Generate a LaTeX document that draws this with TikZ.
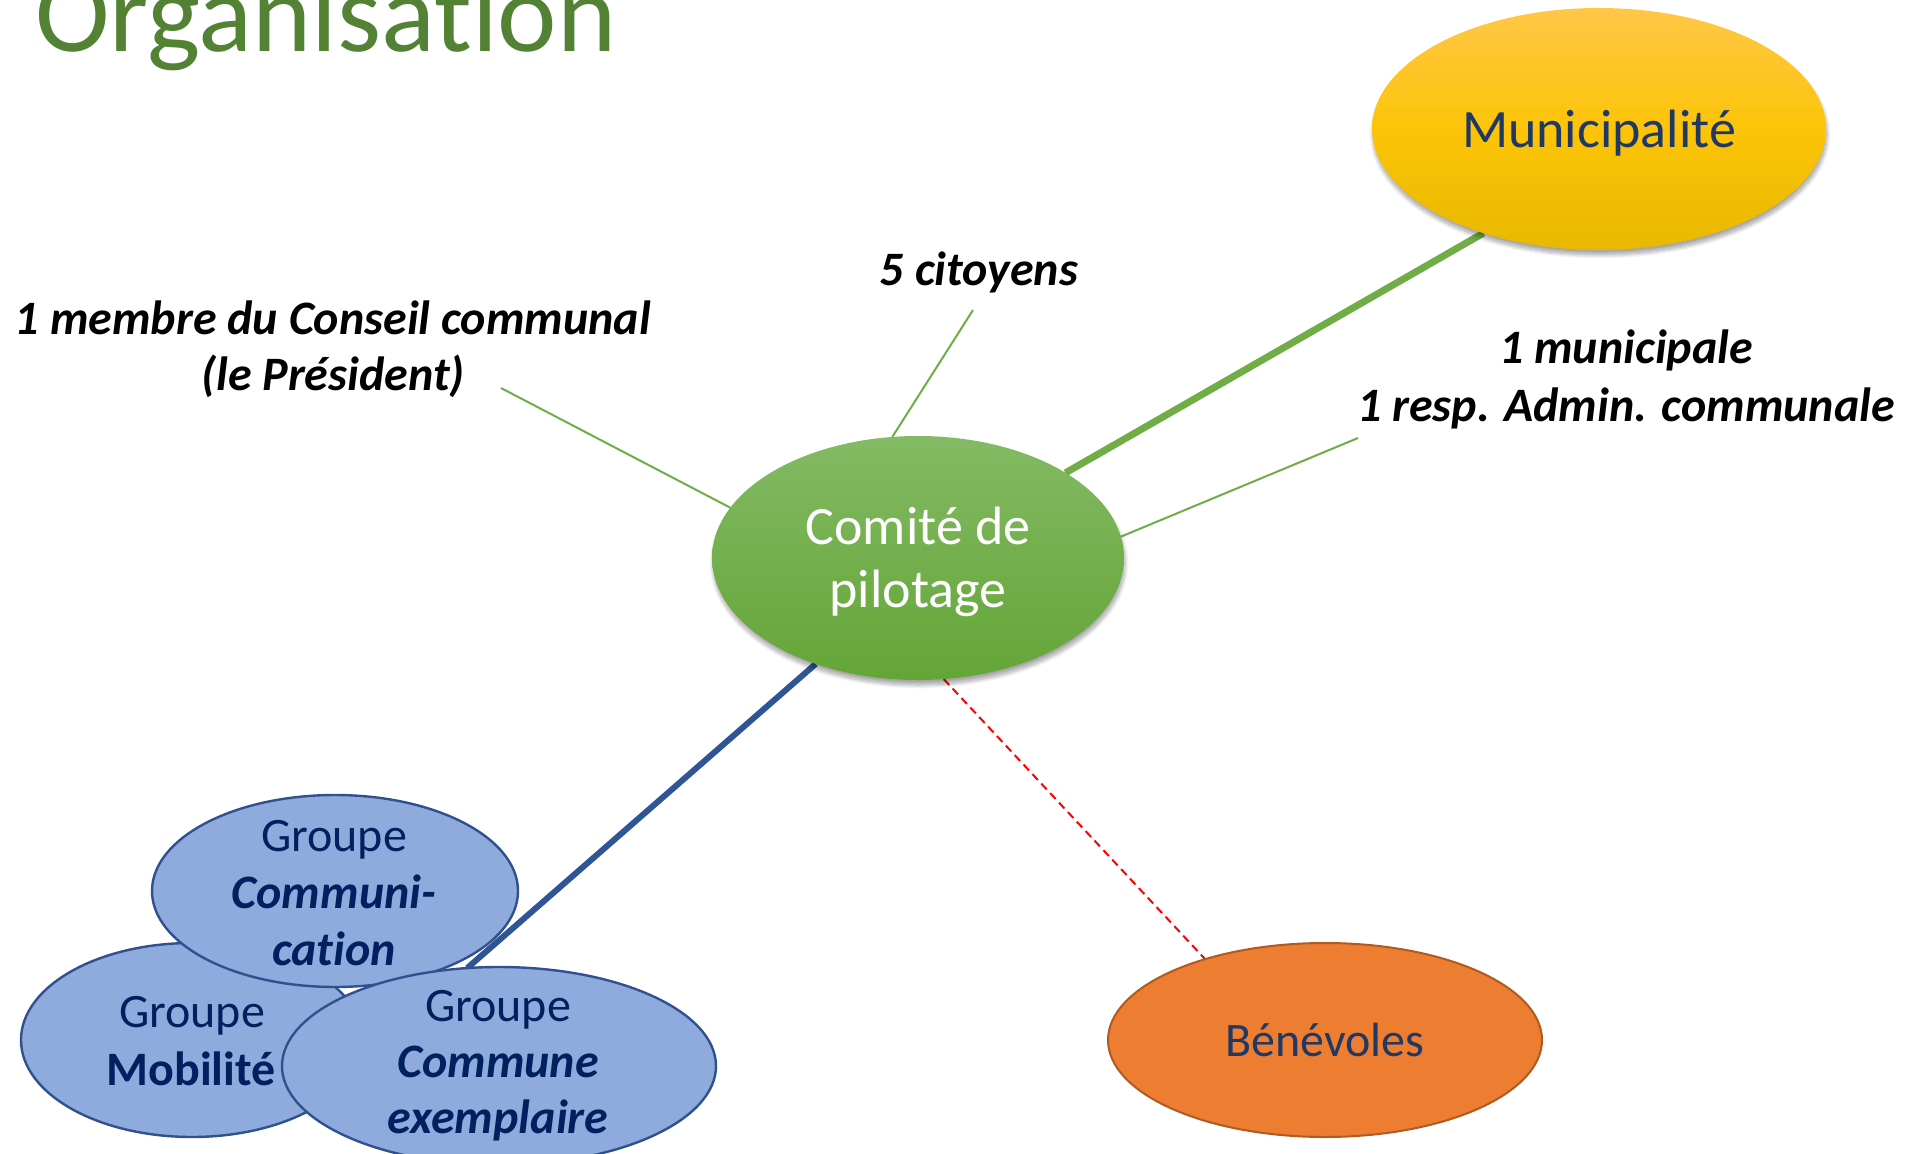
\documentclass[tikz,border=0pt]{standalone}
\usepackage{fontspec}
\setmainfont{Carlito}[Ligatures=NoCommon]
\usetikzlibrary{shapes.geometric,shadows.blur}
\definecolor{titlegreen}{HTML}{548235}
\definecolor{linkgreen}{HTML}{70AD47}
\definecolor{linkblue}{HTML}{2F5597}
\definecolor{grpfill}{HTML}{8FAADC}
\definecolor{grpline}{HTML}{2F528F}
\definecolor{grptext}{HTML}{002060}
\definecolor{navytext}{HTML}{203864}
\definecolor{benfill}{HTML}{ED7D31}
\definecolor{benline}{HTML}{AE5A21}
\pgfdeclarelayer{grpback}
\pgfdeclarelayer{links}
\pgfsetlayers{grpback,links,main}
\begin{document}
\begin{tikzpicture}[x=0.5pt,y=-0.5pt,
  oval/.style={ellipse, inner sep=0pt, outer sep=0pt},
  grp/.style={oval, fill=grpfill, draw=grpline, line width=1.2pt},
  shad/.style={blur shadow={shadow xshift=0.5pt, shadow yshift=-2.5pt, shadow blur steps=10, shadow opacity=35}},
  txt/.style={inner sep=0pt, anchor=base},
  big/.style={font=\fontsize{27pt}{32pt}\selectfont},
  mid/.style={font=\fontsize{24pt}{28pt}\selectfont},
  lab/.style={font=\fontsize{24pt}{28pt}\selectfont\bfseries\itshape, text=black},
  thin/.style={linkgreen, line width=1pt}
]
\useasboundingbox (0,0) rectangle (1914,1154);
\clip (0,0) rectangle (1914,1154);

% title
\node[txt, anchor=base west, text=titlegreen, font=\fontsize{56.3pt}{60pt}\selectfont] (title) at (35,52) {Organisation};

% main ellipses
\node[oval, shad, minimum width=227pt, minimum height=121pt,
      top color={rgb,255:red,255;green,199;blue,70}, bottom color={rgb,255:red,232;green,184;blue,0},
      middle color={rgb,255:red,252;green,196;blue,8}] (mun) at (1599,129) {};
\node[txt, big, text=navytext] (mun-t) at (1599,148) {Municipalité};

\node[oval, shad, minimum width=206pt, minimum height=122pt,
      top color={rgb,255:red,131;green,186;blue,100}, bottom color={rgb,255:red,100;green,165;blue,55}] (com) at (918,558) {};
\node[txt, big, text=white] (com-t1) at (918,544) {Comité de};
\node[txt, big, text=white] (com-t2) at (918,607) {pilotage};

\node[oval, fill=benfill, draw=benline, line width=1pt, minimum width=217pt, minimum height=97pt] (ben) at (1325,1040) {};
\node[txt, mid, text=navytext] (ben-t) at (1325,1056) {Bénévoles};

% groups
\begin{pgfonlayer}{grpback}
\node[grp, minimum width=171pt, minimum height=97pt] (gmob) at (192,1040) {};
\node[grp, minimum width=183pt, minimum height=96pt] (gcom) at (335,891) {};
\end{pgfonlayer}
\node[grp, minimum width=217pt, minimum height=99pt] (gce) at (499,1066) {};

\begin{scope}[mid, text=grptext]
\node[txt] (gcom-t1) at (334,851) {Groupe};
\node[txt, font=\fontsize{24pt}{28pt}\selectfont\bfseries\itshape] (gcom-t2) at (334,908) {Communi-};
\node[txt, font=\fontsize{24pt}{28pt}\selectfont\bfseries\itshape] (gcom-t3) at (334,965) {cation};
\node[txt] (gmob-t1) at (192,1027) {Groupe};
\node[txt, font=\fontsize{24pt}{28pt}\selectfont\bfseries] (gmob-t2) at (191,1085) {Mobilité};
\node[txt] (gce-t1) at (498,1021) {Groupe};
\node[txt, font=\fontsize{24pt}{28pt}\selectfont\bfseries\itshape] (gce-t2) at (498,1077) {Commune};
\node[txt, font=\fontsize{24pt}{28pt}\selectfont\bfseries\itshape] (gce-t3) at (498,1133) {exemplaire};
\end{scope}

% labels
\node[txt, lab] (pres1) at (333,335) {1 membre du Conseil communal};
\node[txt, lab] (pres2) at (333,391) {(le Président)};
\node[txt, lab] (cit) at (979,286) {5 citoyens};
\node[txt, lab] (adm1) at (1626,364) {1 municipale};
\node[txt, lab] (adm2) at (1626,422) {1 resp. Admin. communale};

\coordinate (pres-end) at (501,388);
\coordinate (cit-end) at (973,310);
\coordinate (adm-end) at (1358,438);

% connectors
\begin{pgfonlayer}{links}
\draw[linkgreen, line width=3.5pt] (com.30) -- (mun.222);
\draw[thin] (pres-end) -- (com.165);
\draw[thin] (cit-end) -- (com.102);
\draw[thin] (adm-end) -- (com.6);
\draw[linkblue, line width=3pt] (com.226) -- (gce.108);
\draw[red, line width=1pt, dash pattern=on 4pt off 2.5pt] (com.282) -- (ben.146);
\end{pgfonlayer}
\end{tikzpicture}
\end{document}
